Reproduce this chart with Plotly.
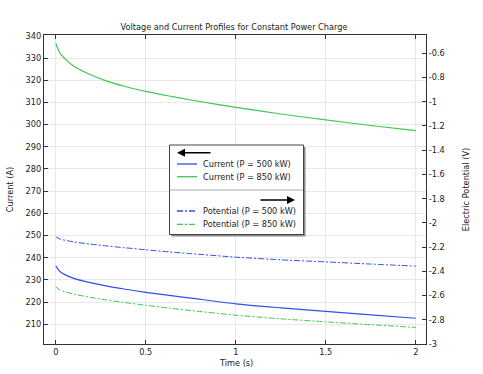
import plotly.graph_objects as go

# ---- data ----
time_s = [0, 0.024, 0.1, 0.19, 0.28, 0.38, 0.5, 0.63, 0.75, 1.0, 1.25, 1.5, 1.75, 2.0]
current_500 = [236.3, 233.7, 230.7, 228.8, 227.3, 225.9, 224.4, 223.0, 221.8, 219.2, 217.4, 215.8, 214.2, 212.7]
current_850 = [336.7, 332.1, 326.3, 322.6, 319.7, 317.3, 315.0, 312.9, 311.1, 307.8, 304.8, 302.1, 299.6, 297.3]
potential_500 = [-2.115, -2.134, -2.157, -2.175, -2.190, -2.205, -2.222, -2.240, -2.254, -2.283, -2.305, -2.322, -2.340, -2.357]
potential_850 = [-2.527, -2.555, -2.588, -2.614, -2.636, -2.657, -2.680, -2.704, -2.724, -2.762, -2.792, -2.817, -2.841, -2.863]

x_ticks = [0, 0.5, 1, 1.5, 2]
left_ticks = list(range(210, 341, 10))
right_ticks = [-3, -2.8, -2.6, -2.4, -2.2, -2, -1.8, -1.6, -1.4, -1.2, -1, -0.8, -0.6]
right_labels = ["-3", "-2.8", "-2.6", "-2.4", "-2.2", "-2", "-1.8", "-1.6", "-1.4", "-1.2", "-1", "-0.8", "-0.6"]

legend_current = ["Current (P = 500 kW)", "Current (P = 850 kW)"]
legend_potential = ["Potential (P = 500 kW)", "Potential (P = 850 kW)"]

BLUE = "#3050f0"
GREEN = "#40c850"
FONT = "DejaVu Sans"
FS = 8.2

W, H = 483, 374
L, R, T, B = 44, 426, 35, 344  # plot area in pixels


def px(xp):
    return (xp - L) / (R - L)


def py(yp):
    return (B - yp) / (B - T)


DASHDOT = "6px,2px,2px,2px"

fig = go.Figure()
fig.add_trace(go.Scatter(x=time_s, y=current_500, mode="lines",
                         line=dict(color=BLUE, width=1.2, shape="spline", smoothing=0.7),
                         yaxis="y", showlegend=False))
fig.add_trace(go.Scatter(x=time_s, y=current_850, mode="lines",
                         line=dict(color=GREEN, width=1.2, shape="spline", smoothing=0.7),
                         yaxis="y", showlegend=False))
fig.add_trace(go.Scatter(x=time_s, y=potential_500, mode="lines",
                         line=dict(color=BLUE, width=1.0, dash=DASHDOT, shape="spline", smoothing=0.7),
                         yaxis="y2", showlegend=False))
fig.add_trace(go.Scatter(x=time_s, y=potential_850, mode="lines",
                         line=dict(color=GREEN, width=1.0, dash=DASHDOT, shape="spline", smoothing=0.7),
                         yaxis="y2", showlegend=False))

shapes = []
annotations = []

# legend box with shadow
shapes.append(dict(type="rect", xref="paper", yref="paper", x0=px(171.5), x1=px(305.5), y0=py(236.5), y1=py(147),
                   fillcolor="#8a8a8a", line=dict(width=0), layer="above"))
shapes.append(dict(type="rect", xref="paper", yref="paper", x0=px(169.5), x1=px(303.5), y0=py(234.5), y1=py(145),
                   fillcolor="white", line=dict(color="#444444", width=1), layer="above"))
# separator
shapes.append(dict(type="line", xref="paper", yref="paper", x0=px(169.5), x1=px(303.5), y0=py(190), y1=py(190),
                   line=dict(color="#555555", width=1, dash="1px,1px"), layer="above"))

# arrows
annotations.append(dict(xref="paper", yref="paper", x=px(177), y=py(152.7), ax=35, ay=0, text="", showarrow=True,
                        arrowhead=2, arrowsize=1, arrowwidth=1.6, arrowcolor="black"))
annotations.append(dict(xref="paper", yref="paper", x=px(295), y=py(200), ax=-36, ay=0, text="", showarrow=True,
                        arrowhead=2, arrowsize=1, arrowwidth=1.6, arrowcolor="black"))

legend_rows = [
    (164, BLUE, "solid", legend_current[0]),
    (176.7, GREEN, "solid", legend_current[1]),
    (211, BLUE, DASHDOT, legend_potential[0]),
    (224.3, GREEN, DASHDOT, legend_potential[1]),
]
for yrow, col, dash, label in legend_rows:
    shapes.append(dict(type="line", xref="paper", yref="paper", x0=px(177), x1=px(197), y0=py(yrow), y1=py(yrow),
                       line=dict(color=col, width=1.3, dash=dash), layer="above"))
    annotations.append(dict(xref="paper", yref="paper", x=px(200.5), y=py(yrow), text=label, showarrow=False,
                            xanchor="left", yanchor="middle", font=dict(family=FONT, size=FS, color="#222222")))

# x-axis title
annotations.append(dict(xref="paper", yref="paper", x=px(236), y=py(363), text="Time (s)", showarrow=False,
                        xanchor="center", yanchor="middle", font=dict(family=FONT, size=FS, color="#222222")))

axis_common = dict(showline=True, linecolor="#333333", linewidth=1.2, ticks="inside", ticklen=4,
                   tickcolor="#333333", tickfont=dict(family=FONT, size=FS, color="#222222"), zeroline=False,
                   automargin=False)

fig.update_layout(
    width=W, height=H,
    margin=dict(l=L, r=W - R, t=T, b=H - B, autoexpand=False),
    paper_bgcolor="white", plot_bgcolor="white",
    title=dict(text="Voltage and Current Profiles for Constant Power Charge", x=px(234), xref="paper",
               y=1 - 27 / H, yanchor="middle", xanchor="center",
               font=dict(family=FONT, size=FS, color="#222222")),
    xaxis=dict(range=[-0.0656, 2.0567], tickvals=x_ticks, ticktext=["0", "0.5", "1", "1.5", "2"],
               showgrid=True, gridcolor="#e8e8e8", gridwidth=1, mirror="ticks", ticklabelstandoff=0,
               **axis_common),
    yaxis=dict(range=[201.1, 340.4], tickvals=left_ticks, showgrid=True, gridcolor="#e8e8e8", gridwidth=1,
               title=dict(text="Current (A)", font=dict(family=FONT, size=FS, color="#222222"), standoff=10),
               **axis_common),
    yaxis2=dict(range=[-3, -0.449], tickvals=right_ticks, ticktext=right_labels, overlaying="y", side="right",
                showgrid=False,
                title=dict(text="Electric Potential (V)", font=dict(family=FONT, size=FS, color="#222222"),
                           standoff=19),
                **axis_common),
    shapes=shapes,
    annotations=annotations,
)

fig.write_html("out.html", config={"displayModeBar": False},
               post_script="document.body.style.margin='0';document.body.style.overflow='hidden';")
